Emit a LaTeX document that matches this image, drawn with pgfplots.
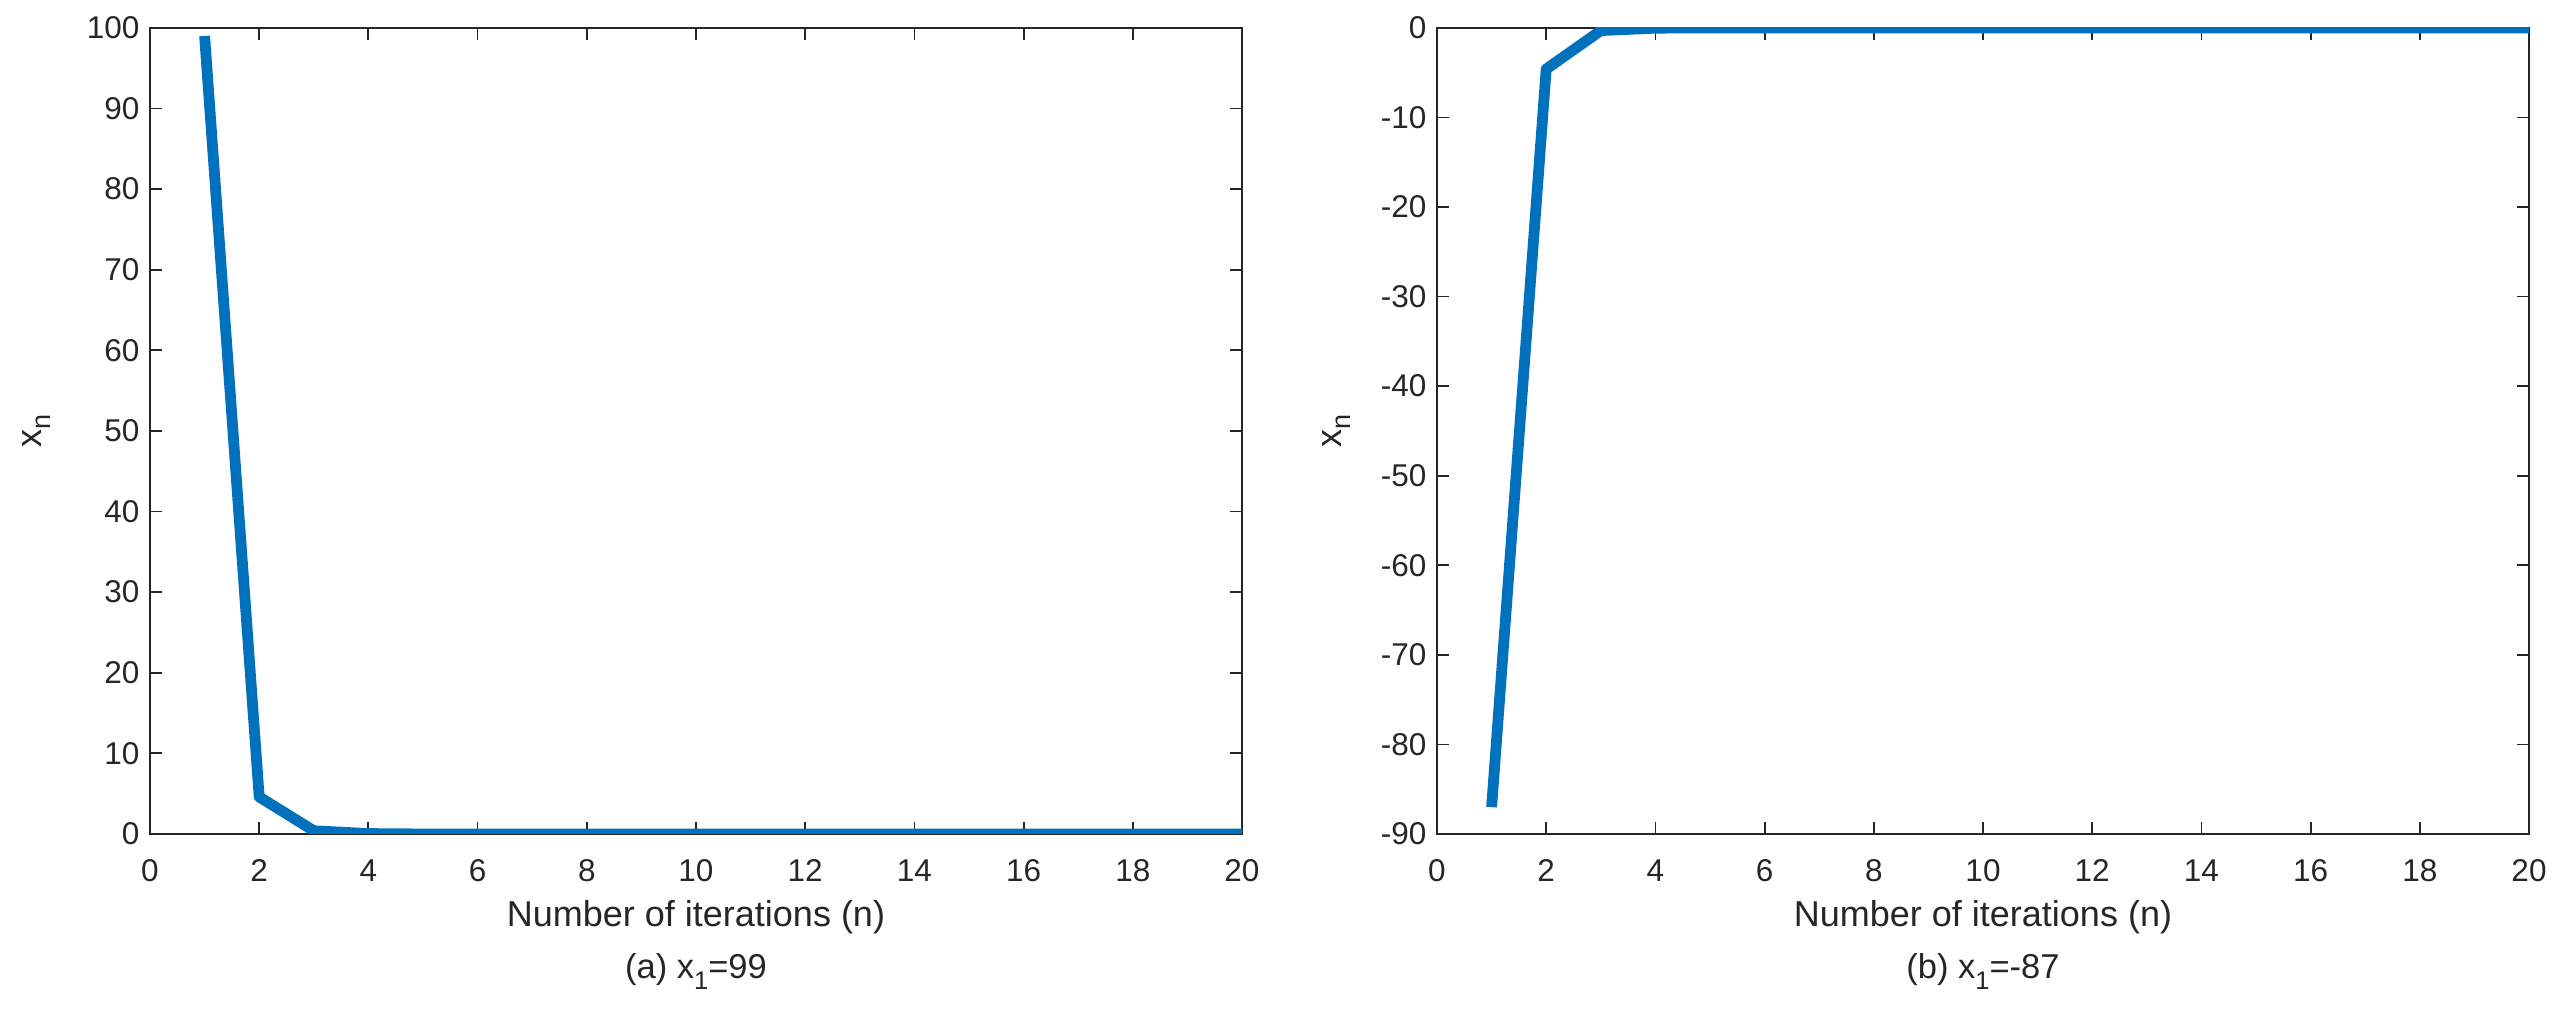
\documentclass[border=0pt]{standalone}
\usepackage{pgfplots}
\pgfplotsset{compat=1.18}
\usepackage{fontspec}
\setmainfont{Liberation Sans}
\definecolor{axgray}{RGB}{38,38,38}
\definecolor{mblue}{RGB}{0,114,189}

\pgfplotsset{
  iterplot/.style={
    scale only axis,
    width=364pt, height=268.7pt,
    xmin=0, xmax=20,
    xtick={0,2,...,20},
    axis line style={axgray, line width=0.6pt},
    every tick/.style={axgray, line width=0.6pt},
    tick align=inside,
    major tick length=4pt,
    /pgf/number format/assume math mode=true,
    tick label style={font=\fontsize{10.5}{12}\selectfont, text=axgray},
    xticklabel style={yshift=-5pt},
    label style={font=\fontsize{12}{14}\selectfont, text=axgray},
    xlabel={Number of iterations (n)},
    xlabel style={at={(axis description cs:0.5,-0.103)}, anchor=center},
    ylabel={x\raisebox{-0.5ex}{\fontsize{9}{10}\selectfont n}},
  },
  iterline/.style={mblue, line width=3.6pt, line join=round, no markers},
}

\begin{document}
\begin{tikzpicture}
\useasboundingbox (0,0) rectangle (855pt,339pt);

\begin{axis}[iterplot, name=left,
  at={(50pt,61pt)}, anchor=south west,
  ymin=0, ymax=100, ytick={0,10,...,100},
  ylabel style={at={(axis description cs:-0.104,0.5)}, anchor=center},
]
\addplot[iterline] table {
n  x
1  99
2  4.6
3  0.4
4  0.05
5  0
6  0
7  0
8  0
9  0
10 0
11 0
12 0
13 0
14 0
15 0
16 0
17 0
18 0
19 0
20 0
};
\end{axis}
\node[font=\fontsize{11.5}{14}\selectfont, text=axgray] at ([yshift=-45.9pt]left.south)
  {(a) x\raisebox{-0.6ex}{\fontsize{8.5}{10}\selectfont 1}=99};

\begin{axis}[iterplot, name=right,
  at={(479pt,61pt)}, anchor=south west,
  ymin=-90, ymax=0, ytick={-90,-80,...,0},
  ylabel style={at={(axis description cs:-0.092,0.5)}, anchor=center},
]
\addplot[iterline] table {
n  x
1  -87
2  -4.6
3  -0.3
4  -0.03
5  0
6  0
7  0
8  0
9  0
10 0
11 0
12 0
13 0
14 0
15 0
16 0
17 0
18 0
19 0
20 0
};
\end{axis}
\node[font=\fontsize{11.5}{14}\selectfont, text=axgray] at ([yshift=-45.9pt]right.south)
  {(b) x\raisebox{-0.6ex}{\fontsize{8.5}{10}\selectfont 1}=-87};
\end{tikzpicture}
\end{document}
